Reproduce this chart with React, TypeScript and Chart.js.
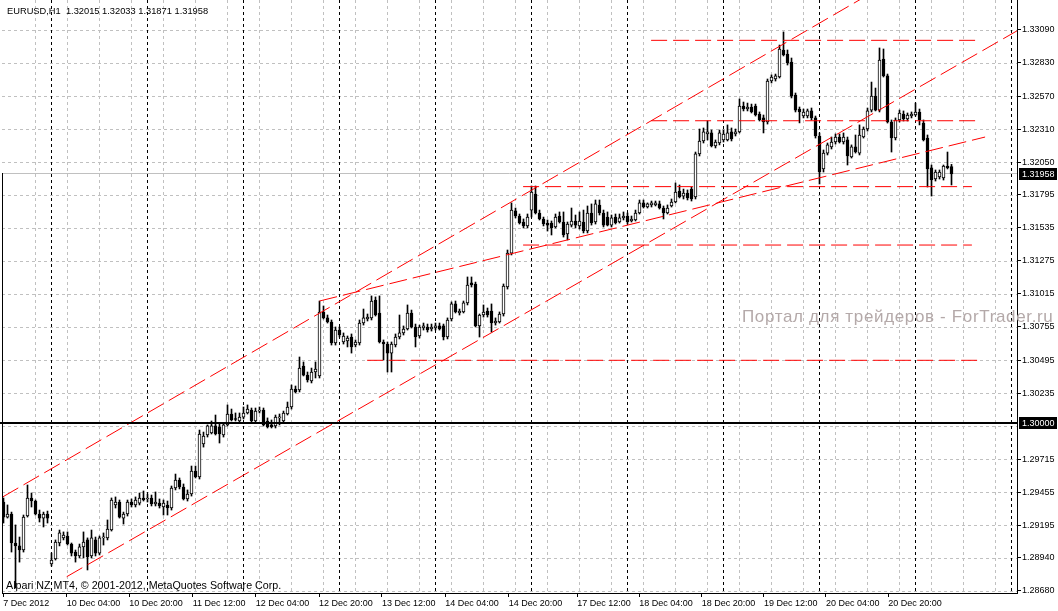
import React, { useEffect, useRef } from 'react';
import { Chart, registerables } from 'chart.js';

Chart.register(...registerables);

// ---- Candle data: EURUSD H1, bar 0 = 7 Dec 2012 12:00 ----
const opens = [
  1.29379, 1.29261, 1.29285, 1.29057, 1.29034, 1.29002, 1.29269, 1.29411, 1.29387, 1.29285, 1.29253, 1.29285,
  1.28892, 1.28931, 1.29057, 1.29097, 1.29112, 1.29049, 1.28986, 1.28955, 1.29026, 1.29081, 1.28955, 1.29081,
  1.28978, 1.29097, 1.29097, 1.29159, 1.29356, 1.29379, 1.29253, 1.29285, 1.29379, 1.29356, 1.29371, 1.29411,
  1.29403, 1.29411, 1.29364, 1.29371, 1.29340, 1.29356, 1.29332, 1.29489, 1.29552, 1.29497, 1.29403, 1.29442,
  1.29623, 1.29576, 1.29835, 1.29906, 1.29922, 1.29977, 1.29969, 1.29906, 1.29985, 1.30071, 1.30032, 1.30016,
  1.30047, 1.30079, 1.30102, 1.30016, 1.30094, 1.30102, 1.30016, 1.29985, 1.29977, 1.30040, 1.30016, 1.30071,
  1.30126, 1.30267, 1.30260, 1.30448, 1.30377, 1.30330, 1.30401, 1.30370, 1.30873, 1.30826, 1.30794, 1.30629,
  1.30731, 1.30637, 1.30645, 1.30676, 1.30613, 1.30629, 1.30786, 1.30818, 1.30826, 1.30967, 1.30865, 1.30637,
  1.30621, 1.30550, 1.30613, 1.30676, 1.30708, 1.30739, 1.30865, 1.30755, 1.30684, 1.30747, 1.30755, 1.30739,
  1.30747, 1.30763, 1.30763, 1.30676, 1.30818, 1.30936, 1.30865, 1.30873, 1.30944, 1.31101, 1.31093, 1.30763,
  1.30849, 1.30880, 1.30880, 1.30786, 1.30794, 1.30857, 1.31069, 1.31336, 1.31667, 1.31627, 1.31580, 1.31549,
  1.31674, 1.31800, 1.31651, 1.31604, 1.31572, 1.31572, 1.31541, 1.31627, 1.31580, 1.31486, 1.31556, 1.31588,
  1.31549, 1.31580, 1.31509, 1.31651, 1.31580, 1.31714, 1.31651, 1.31619, 1.31556, 1.31619, 1.31580, 1.31612,
  1.31627, 1.31588, 1.31596, 1.31651, 1.31730, 1.31698, 1.31714, 1.31714, 1.31722, 1.31690, 1.31651, 1.31706,
  1.31737, 1.31824, 1.31784, 1.31808, 1.31839, 1.31777, 1.32115, 1.32217, 1.32272, 1.32280, 1.32178, 1.32201,
  1.32225, 1.32225, 1.32288, 1.32272, 1.32288, 1.32492, 1.32468, 1.32484, 1.32492, 1.32429, 1.32398, 1.32366,
  1.32688, 1.32704, 1.32720, 1.32932, 1.32900, 1.32838, 1.32578, 1.32468, 1.32413, 1.32413, 1.32453, 1.32398,
  1.32256, 1.31997, 1.32122, 1.32170, 1.32209, 1.32248, 1.32209, 1.32225, 1.32091, 1.32170, 1.32122, 1.32248,
  1.32311, 1.32460, 1.32570, 1.32460, 1.32861, 1.32728, 1.32366, 1.32240, 1.32382, 1.32429, 1.32390, 1.32413,
  1.32421, 1.32445, 1.32358, 1.32240, 1.32005, 1.31918, 1.31934, 1.31926, 1.32020, 1.32015,
];
const highs = [
  1.29411, 1.29356, 1.29300, 1.29199, 1.29104, 1.29277, 1.29513, 1.29450, 1.29395, 1.29316, 1.29300, 1.29308,
  1.28978, 1.29081, 1.29159, 1.29144, 1.29144, 1.29057, 1.29002, 1.29049, 1.29144, 1.29097, 1.29159, 1.29104,
  1.29112, 1.29136, 1.29238, 1.29411, 1.29419, 1.29395, 1.29300, 1.29395, 1.29403, 1.29419, 1.29450, 1.29466,
  1.29442, 1.29434, 1.29458, 1.29403, 1.29395, 1.29387, 1.29505, 1.29599, 1.29568, 1.29521, 1.29474, 1.29662,
  1.29662, 1.29945, 1.29929, 1.29985, 1.30016, 1.30063, 1.29992, 1.30000, 1.30142, 1.30110, 1.30079, 1.30079,
  1.30126, 1.30142, 1.30118, 1.30118, 1.30126, 1.30118, 1.30040, 1.30024, 1.30063, 1.30071, 1.30094, 1.30165,
  1.30299, 1.30291, 1.30519, 1.30480, 1.30401, 1.30432, 1.30480, 1.30959, 1.30920, 1.30849, 1.30810, 1.30755,
  1.30755, 1.30708, 1.30684, 1.30700, 1.30653, 1.30810, 1.30896, 1.30857, 1.30999, 1.30991, 1.30999, 1.30653,
  1.30637, 1.30637, 1.30700, 1.30849, 1.30763, 1.30928, 1.30888, 1.30778, 1.30770, 1.30786, 1.30778, 1.30778,
  1.30786, 1.30786, 1.30778, 1.30826, 1.30952, 1.30959, 1.30896, 1.30959, 1.31148, 1.31148, 1.31108, 1.30857,
  1.30928, 1.30904, 1.30936, 1.30826, 1.30873, 1.31093, 1.31360, 1.31730, 1.31690, 1.31643, 1.31604, 1.31643,
  1.31863, 1.31863, 1.31674, 1.31619, 1.31596, 1.31588, 1.31643, 1.31659, 1.31659, 1.31580, 1.31690, 1.31635,
  1.31659, 1.31674, 1.31706, 1.31722, 1.31753, 1.31753, 1.31674, 1.31659, 1.31635, 1.31643, 1.31643, 1.31659,
  1.31651, 1.31627, 1.31674, 1.31753, 1.31753, 1.31730, 1.31745, 1.31745, 1.31745, 1.31706, 1.31714, 1.31761,
  1.31887, 1.31871, 1.31839, 1.31832, 1.31855, 1.32130, 1.32311, 1.32319, 1.32374, 1.32303, 1.32225, 1.32303,
  1.32303, 1.32343, 1.32319, 1.32311, 1.32547, 1.32523, 1.32515, 1.32507, 1.32507, 1.32445, 1.32421, 1.32704,
  1.32736, 1.32743, 1.32971, 1.33074, 1.32932, 1.32869, 1.32594, 1.32484, 1.32468, 1.32468, 1.32476, 1.32413,
  1.32280, 1.32146, 1.32201, 1.32248, 1.32272, 1.32272, 1.32280, 1.32248, 1.32186, 1.32264, 1.32343, 1.32327,
  1.32476, 1.32680, 1.32633, 1.32948, 1.32940, 1.32743, 1.32382, 1.32398, 1.32460, 1.32453, 1.32437, 1.32445,
  1.32515, 1.32468, 1.32382, 1.32264, 1.32028, 1.31989, 1.31989, 1.32028, 1.32130, 1.32033,
];
const lows = [
  1.29214, 1.29253, 1.28986, 1.28703, 1.28907, 1.28986, 1.29261, 1.29340, 1.29277, 1.29222, 1.29183, 1.29214,
  1.28876, 1.28923, 1.29034, 1.29081, 1.29041, 1.28955, 1.28907, 1.28939, 1.28939, 1.28845, 1.28939, 1.28955,
  1.28963, 1.29041, 1.29081, 1.29151, 1.29332, 1.29253, 1.29206, 1.29269, 1.29340, 1.29340, 1.29356, 1.29387,
  1.29379, 1.29348, 1.29348, 1.29332, 1.29277, 1.29277, 1.29316, 1.29474, 1.29482, 1.29395, 1.29387, 1.29426,
  1.29568, 1.29560, 1.29811, 1.29890, 1.29914, 1.29906, 1.29843, 1.29890, 1.29977, 1.30016, 1.30016, 1.30008,
  1.30032, 1.30071, 1.30000, 1.30000, 1.30079, 1.29977, 1.29961, 1.29961, 1.29961, 1.29985, 1.30008, 1.30063,
  1.30110, 1.30236, 1.30244, 1.30370, 1.30322, 1.30315, 1.30354, 1.30354, 1.30818, 1.30786, 1.30613, 1.30613,
  1.30676, 1.30621, 1.30598, 1.30550, 1.30598, 1.30613, 1.30770, 1.30802, 1.30810, 1.30841, 1.30629, 1.30495,
  1.30401, 1.30401, 1.30598, 1.30661, 1.30692, 1.30731, 1.30747, 1.30598, 1.30668, 1.30731, 1.30715, 1.30723,
  1.30731, 1.30731, 1.30653, 1.30661, 1.30802, 1.30865, 1.30849, 1.30865, 1.30928, 1.31069, 1.30755, 1.30676,
  1.30833, 1.30833, 1.30715, 1.30770, 1.30786, 1.30841, 1.31053, 1.31321, 1.31612, 1.31564, 1.31533, 1.31533,
  1.31619, 1.31643, 1.31596, 1.31549, 1.31509, 1.31478, 1.31533, 1.31572, 1.31462, 1.31439, 1.31541, 1.31533,
  1.31525, 1.31494, 1.31494, 1.31556, 1.31564, 1.31635, 1.31541, 1.31549, 1.31541, 1.31564, 1.31572, 1.31596,
  1.31564, 1.31580, 1.31588, 1.31643, 1.31690, 1.31690, 1.31698, 1.31706, 1.31682, 1.31604, 1.31643, 1.31698,
  1.31730, 1.31769, 1.31761, 1.31753, 1.31745, 1.31761, 1.32099, 1.32201, 1.32225, 1.32170, 1.32162, 1.32186,
  1.32209, 1.32217, 1.32217, 1.32256, 1.32280, 1.32453, 1.32453, 1.32437, 1.32413, 1.32374, 1.32280, 1.32350,
  1.32673, 1.32688, 1.32712, 1.32885, 1.32814, 1.32555, 1.32445, 1.32359, 1.32398, 1.32398, 1.32382, 1.32240,
  1.31879, 1.31973, 1.32107, 1.32154, 1.32193, 1.32201, 1.32193, 1.32028, 1.32083, 1.32122, 1.32107, 1.32240,
  1.32295, 1.32445, 1.32453, 1.32445, 1.32720, 1.32358, 1.32130, 1.32225, 1.32366, 1.32374, 1.32374, 1.32398,
  1.32413, 1.32343, 1.32217, 1.31855, 1.31784, 1.31902, 1.31918, 1.31910, 1.31997, 1.31871,
];
const closes = [
  1.29261, 1.29285, 1.29057, 1.29034, 1.29002, 1.29261, 1.29411, 1.29387, 1.29285, 1.29253, 1.29285, 1.29253,
  1.28923, 1.29065, 1.29136, 1.29120, 1.29049, 1.28978, 1.28955, 1.29026, 1.29065, 1.28947, 1.29097, 1.28978,
  1.29097, 1.29104, 1.29167, 1.29395, 1.29379, 1.29261, 1.29285, 1.29379, 1.29356, 1.29395, 1.29411, 1.29395,
  1.29411, 1.29364, 1.29379, 1.29348, 1.29371, 1.29332, 1.29489, 1.29552, 1.29497, 1.29403, 1.29442, 1.29623,
  1.29576, 1.29914, 1.29898, 1.29977, 1.29977, 1.29914, 1.29914, 1.29985, 1.30071, 1.30024, 1.30028, 1.30047,
  1.30079, 1.30110, 1.30016, 1.30094, 1.30102, 1.29985, 1.29969, 1.29969, 1.30047, 1.30047, 1.30079, 1.30126,
  1.30267, 1.30244, 1.30432, 1.30377, 1.30338, 1.30401, 1.30424, 1.30873, 1.30826, 1.30794, 1.30629, 1.30731,
  1.30692, 1.30684, 1.30668, 1.30598, 1.30637, 1.30786, 1.30826, 1.30833, 1.30959, 1.30849, 1.30637, 1.30621,
  1.30550, 1.30621, 1.30676, 1.30708, 1.30739, 1.30865, 1.30755, 1.30676, 1.30755, 1.30763, 1.30731, 1.30755,
  1.30763, 1.30739, 1.30676, 1.30810, 1.30936, 1.30873, 1.30880, 1.30944, 1.31085, 1.31085, 1.30763, 1.30849,
  1.30873, 1.30849, 1.30786, 1.30802, 1.30857, 1.31077, 1.31336, 1.31674, 1.31627, 1.31572, 1.31549, 1.31619,
  1.31816, 1.31651, 1.31604, 1.31564, 1.31556, 1.31533, 1.31619, 1.31580, 1.31478, 1.31564, 1.31588, 1.31556,
  1.31588, 1.31509, 1.31651, 1.31572, 1.31722, 1.31651, 1.31556, 1.31556, 1.31612, 1.31572, 1.31612, 1.31627,
  1.31580, 1.31604, 1.31651, 1.31730, 1.31698, 1.31722, 1.31730, 1.31730, 1.31690, 1.31651, 1.31690, 1.31737,
  1.31816, 1.31777, 1.31808, 1.31769, 1.31761, 1.32115, 1.32217, 1.32288, 1.32288, 1.32178, 1.32209, 1.32280,
  1.32272, 1.32280, 1.32233, 1.32288, 1.32492, 1.32468, 1.32484, 1.32445, 1.32421, 1.32382, 1.32366, 1.32688,
  1.32720, 1.32728, 1.32940, 1.32893, 1.32830, 1.32570, 1.32460, 1.32445, 1.32445, 1.32453, 1.32398, 1.32256,
  1.31973, 1.32122, 1.32186, 1.32209, 1.32248, 1.32209, 1.32248, 1.32099, 1.32170, 1.32130, 1.32264, 1.32311,
  1.32453, 1.32570, 1.32460, 1.32853, 1.32728, 1.32366, 1.32240, 1.32382, 1.32437, 1.32390, 1.32421, 1.32429,
  1.32445, 1.32382, 1.32225, 1.31997, 1.31910, 1.31973, 1.31973, 1.32020, 1.32005, 1.31958,
];

// ---- Axis labels ----
const xTickLabels = [
  '7 Dec 2012', '10 Dec 04:00', '10 Dec 20:00', '11 Dec 12:00', '12 Dec 04:00', '12 Dec 20:00',
  '13 Dec 12:00', '14 Dec 04:00', '14 Dec 20:00', '17 Dec 12:00', '18 Dec 04:00', '18 Dec 20:00',
  '19 Dec 12:00', '20 Dec 04:00', '20 Dec 20:00',
];
const xTickBars = [-0.05, 15.8, 31.45, 47.3, 63.05, 78.9, 94.6, 110.45, 126.3, 143.45, 158.95, 174.55, 190.1, 205.6, 221.2];
const yTickValues = [
  1.33090, 1.32830, 1.32570, 1.32310, 1.32050, 1.31795, 1.31535, 1.31275, 1.31015,
  1.30755, 1.30495, 1.30235, 1.29715, 1.29455, 1.29195, 1.28940, 1.28680,
];
const dayStartBars = [12, 36, 60, 84, 108, 132, 156, 180, 204, 228, 252];

// ---- Drawn objects ----
const channelUpper = [[-0.2, 1.29419], [224.1, 1.3351]];
const wedgeLine = [[79, 1.30959], [245.4, 1.32248]];
const channelLower = [[15.8, 1.28792], [253.4, 1.33083]];
const levelPrices = [1.33008, 1.32376, 1.31858, 1.31399, 1.30493];
const levelStartBars = [161.9, 161.9, 129.9, 129.9, 90.9];
const levelEndBars = [243.9, 243.9, 242.1, 242.1, 243.9];
const roundLevel = 1.3;
const symbolTitle = 'EURUSD,H1';

export default function App() {
  const ref = useRef<HTMLCanvasElement>(null);

  useEffect(() => {
    document.body.style.margin = '0';
    const canvas = ref.current;
    if (!canvas) return;
    const n = opens.length;
    const lastClose = closes[n - 1];
    const FONT = "'Liberation Sans', Arial, sans-serif";

    const wickData = opens.map((_, i) => ({ x: i, y: [lows[i], highs[i]] }));
    const bodyData = opens.map((_, i) => ({ x: i, y: [opens[i], closes[i]] }));
    const bodyColors = opens.map((o, i) => (closes[i] >= o ? '#ffffff' : '#000000'));

    const redLine = (pts: number[][], dash: number[]) => ({
      type: 'line' as const,
      data: pts.map(([x, y]) => ({ x, y })),
      borderColor: '#ff0000',
      borderWidth: 1,
      borderDash: dash,
      pointRadius: 0,
      fill: false,
      tension: 0,
      order: 0,
    });

    const levelSets = levelPrices.map((p, k) =>
      redLine([[levelStartBars[k], p], [levelEndBars[k], p]], [16, 6])
    );

    const line = (ctx: CanvasRenderingContext2D, x1: number, y1: number, x2: number, y2: number) => {
      ctx.beginPath();
      ctx.moveTo(x1, y1);
      ctx.lineTo(x2, y2);
      ctx.stroke();
    };

    const gridPlugin = {
      id: 'mtGrid',
      beforeDatasetsDraw(chart: any) {
        const { ctx, chartArea: a, scales } = chart;
        const xs = scales.x;
        const ys = scales.y;
        ctx.save();
        ctx.lineWidth = 1;
        ctx.setLineDash([3, 3]);
        ctx.strokeStyle = '#c0c0c0';
        const gridVals = [...yTickValues, 1.29975];
        for (const v of gridVals) {
          const py = Math.round(ys.getPixelForValue(v)) + 0.5;
          line(ctx, a.left, py, a.right, py);
        }
        for (let k = 1; k < 40; k++) {
          const px = Math.floor(xs.getPixelForValue(8 * k - 0.125)) + 0.5;
          if (px >= a.right) break;
          line(ctx, px, a.top, px, a.bottom);
        }
        ctx.strokeStyle = '#000000';
        for (const b of dayStartBars) {
          const px = Math.floor(xs.getPixelForValue(b)) + 0.5;
          if (px >= a.right) continue;
          line(ctx, px, a.top, px, a.bottom);
        }
        ctx.setLineDash([]);
        ctx.strokeStyle = '#c0c0c0';
        const pl = Math.floor(ys.getPixelForValue(lastClose)) + 0.5;
        line(ctx, a.left, pl, a.right, pl);
        ctx.restore();
      },
      afterDatasetsDraw(chart: any) {
        const { ctx, chartArea: a, scales } = chart;
        const py = Math.round(scales.y.getPixelForValue(roundLevel));
        ctx.save();
        ctx.fillStyle = '#000000';
        ctx.fillRect(0, py - 1, a.right, 2);
        ctx.restore();
      },
    };

    const overlayPlugin = {
      id: 'mtOverlay',
      afterDraw(chart: any) {
        const { ctx, chartArea: a, scales } = chart;
        const ys = scales.y;
        ctx.save();
        ctx.strokeStyle = '#000';
        ctx.lineWidth = 1;
        const pl = Math.floor(ys.getPixelForValue(lastClose));
        line(ctx, a.left + 0.5, pl, a.left + 0.5, a.bottom);

        const box = (v: number) => {
          const cy = Math.round(ys.getPixelForValue(v));
          ctx.fillStyle = '#000';
          ctx.fillRect(a.right + 2, cy - 6, 38, 12);
          ctx.fillStyle = '#fff';
          ctx.font = `9px ${FONT}`;
          ctx.textBaseline = 'middle';
          ctx.textAlign = 'left';
          ctx.fillText(v.toFixed(5), a.right + 5, cy + 0.5);
        };
        box(lastClose);
        box(roundLevel);

        ctx.fillStyle = '#000';
        ctx.textBaseline = 'alphabetic';
        ctx.textAlign = 'left';
        const last = n - 1;
        ctx.font = `9.3px ${FONT}`;
        ctx.fillText(
          `${symbolTitle}  ${opens[last].toFixed(5)} ${highs[last].toFixed(5)} ${lows[last].toFixed(5)} ${closes[last].toFixed(5)}`,
          7,
          14
        );
        ctx.font = `10.7px ${FONT}`;
        ctx.fillText('Alpari NZ MT4, \u00a9 2001-2012, MetaQuotes Software Corp.', 6, 589);

        ctx.fillStyle = '#b4a9a9';
        ctx.font = `17px ${FONT}`;
        (ctx as any).letterSpacing = '0.65px';
        ctx.fillText('Портал для трейдеров - ForTrader.ru', 742, 322);
        ctx.restore();
      },
    };

    const chart = new Chart(canvas, {
      type: 'bar',
      data: {
        datasets: [
          redLine(channelUpper, [18, 6]),
          redLine(wedgeLine, [18, 6]),
          redLine(channelLower, [18, 6]),
          ...levelSets,
          {
            type: 'bar',
            data: bodyData as any,
            backgroundColor: bodyColors,
            borderColor: '#000000',
            borderWidth: 1,
            borderSkipped: false,
            barThickness: 3,
            grouped: false,
            minBarLength: 1,
            order: 1,
          } as any,
          {
            type: 'bar',
            data: wickData as any,
            backgroundColor: '#000000',
            borderWidth: 0,
            barThickness: 1,
            grouped: false,
            order: 2,
          } as any,
        ] as any,
      },
      options: {
        responsive: false,
        animation: false,
        devicePixelRatio: 1,
        events: [],
        layout: { padding: { left: 2, top: 0, right: 0, bottom: 0 }, autoPadding: false },
        plugins: { legend: { display: false }, tooltip: { enabled: false } },
        scales: {
          x: {
            type: 'linear',
            position: 'bottom',
            offset: false,
            min: -0.375,
            max: 253.375,
            afterFit(s: any) {
              s.height = 18;
              s.paddingLeft = 0;
              s.paddingRight = 0;
            },
            afterBuildTicks(s: any) {
              s.ticks = xTickBars.map((v) => ({ value: v }));
            },
            ticks: {
              autoSkip: false,
              maxRotation: 0,
              minRotation: 0,
              align: 'start',
              padding: 1,
              color: '#000',
              font: { family: FONT, size: 9 },
              callback: (_v: any, i: number) => xTickLabels[i],
            },
            grid: { offset: false, drawOnChartArea: false, drawTicks: true, tickLength: 4, color: '#000' },
            border: { display: true, color: '#000' },
          },
          y: {
            type: 'linear',
            position: 'right',
            min: 1.28664,
            max: 1.33325,
            afterFit(s: any) {
              s.width = 41;
              s.paddingTop = 0;
              s.paddingBottom = 0;
            },
            afterBuildTicks(s: any) {
              s.ticks = yTickValues.map((v) => ({ value: v }));
            },
            ticks: {
              padding: 1,
              color: '#000',
              font: { family: FONT, size: 9 },
              callback: (v: any) => Number(v).toFixed(5),
            },
            grid: { drawOnChartArea: false, drawTicks: true, tickLength: 4, color: '#000' },
            border: { display: true, color: '#000' },
          },
        },
      } as any,
      plugins: [gridPlugin, overlayPlugin],
    });

    return () => chart.destroy();
  }, []);

  return (
    <div style={{ position: 'fixed', left: 0, top: 0, width: 1058, height: 611, background: '#ffffff' }}>
      <canvas ref={ref} width={1058} height={611} style={{ display: 'block', width: 1058, height: 611 }} />
    </div>
  );
}
